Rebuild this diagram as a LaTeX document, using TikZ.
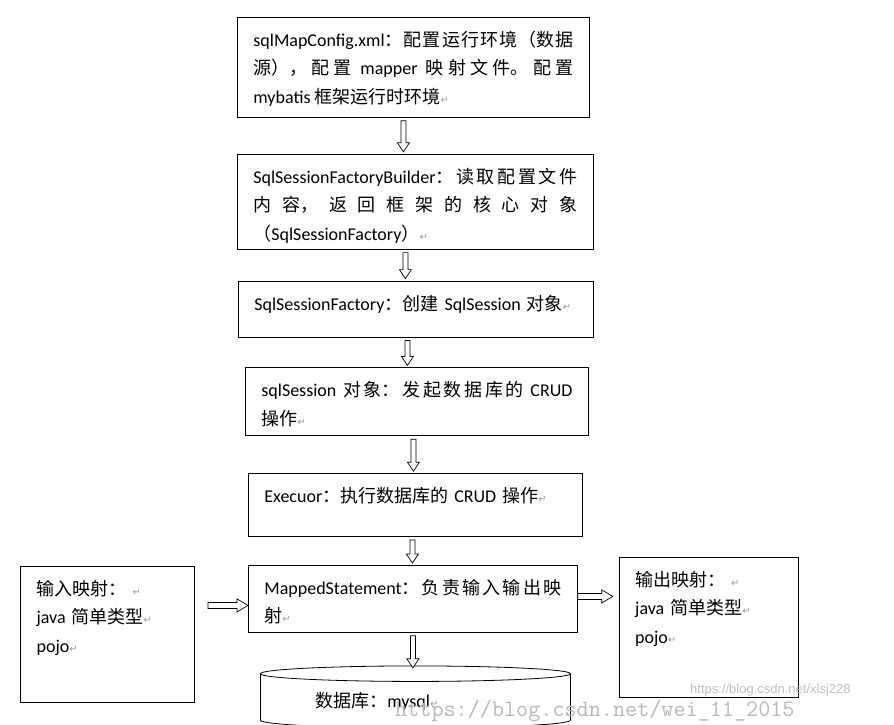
\documentclass[tikz,border=0pt]{standalone}
\usepackage{fontspec}
\usepackage{tikz}
\usetikzlibrary{positioning}
\usetikzlibrary{shapes.geometric}
\usetikzlibrary{calc}
\setmainfont{Carlito}
\newfontfamily\cjk{Noto Sans CJK SC}
\newfontfamily\symf{DejaVu Sans}
\newfontfamily\wmf{Liberation Sans}
\XeTeXlinebreaklocale "zh"
\XeTeXlinebreakskip=0pt plus 2pt
\newcommand\zh[1]{{\cjk #1}}
\newcommand\ret{{\symf\color{black!40}\fontsize{10}{10}\selectfont ↵}}

\begin{document}
\begin{tikzpicture}
        [x=1pt, y=-1pt,
         box/.style={draw, line width=0.8pt, anchor=north west, align=left,
                     inner xsep=16pt, inner ysep=0pt, text height=29pt,
                     font=\fontsize{18}{28.5}\selectfont},
         dflow/.style={draw, fill=white, line width=0.7pt,
                       to path={($(\tikztostart)+(-2.5,3)$) -- ($(\tikztotarget)+(-2.5,-11)$)
                         -- ($(\tikztotarget)+(-6,-11)$) -- ($(\tikztotarget)+(0,-2)$)
                         -- ($(\tikztotarget)+(6,-11)$) -- ($(\tikztotarget)+(2.5,-11)$)
                         -- ($(\tikztostart)+(2.5,3)$) -- cycle}},
         rflow/.style={draw, fill=white, line width=0.7pt,
                       to path={($(\tikztostart)+(0,-3)$) -- ($(\tikztotarget)+(-11,-3)$)
                         -- ($(\tikztotarget)+(-11,-6.5)$) -- (\tikztotarget)
                         -- ($(\tikztotarget)+(-11,6.5)$) -- ($(\tikztotarget)+(-11,3)$)
                         -- ($(\tikztostart)+(0,3)$) -- cycle}}]
      \useasboundingbox (0,0) rectangle (894,724);

      \node[box, align=justify, text width=320pt, text depth=71pt] (cfg) at (237,17)
        {sqlMapConfig.xml\zh{：配置运行环境（数据}\linebreak
         \zh{源），配置} mapper \zh{映射文件。配置}\linebreak
         mybatis \zh{框架运行时环境}\ret};
      \node[box, align=justify, text width=324pt, text depth=66pt] (builder)
        [below right=36pt and 0pt of cfg.south west]
        {SqlSessionFactoryBuilder\zh{：读取配置文件}\linebreak
         \zh{内容，返回框架的核心对象}\linebreak
         \zh{（}SqlSessionFactory\zh{）}\ret};
      \node[box, text width=323pt, text depth=27pt] (factory)
        [below right=31pt and 1pt of builder.south west]
        {SqlSessionFactory\zh{：创建} SqlSession \zh{对象}\ret};
      \node[box, align=justify, text width=311pt, text depth=39pt] (session)
        [below right=30pt and 7pt of factory.south west]
        {sqlSession \zh{对象：发起数据库的} CRUD\linebreak
         \zh{操作}\ret};
      \node[box, text width=302pt, text depth=34pt] (executor)
        [below right=37pt and 3pt of session.south west]
        {Execuor\zh{：执行数据库的} CRUD \zh{操作}\ret};
      \node[box, align=justify, text width=297pt, text depth=38pt] (mapped)
        [below right=28pt and 0pt of executor.south west]
        {MappedStatement\zh{：负责输入输出映}\linebreak
         \zh{射}\ret};
      \node[box, text width=142pt, text depth=107pt] (input)
        [below left=1pt and 53pt of mapped.north west, anchor=north east]
        {\zh{输入映射：} \ret\\ java \zh{简单类型}\ret\\ pojo\ret};
      \node[box, text width=147pt, text depth=111pt] (output)
        [above right=8pt and 41pt of mapped.north east, anchor=north west]
        {\zh{输出映射：} \ret\\ java \zh{简单类型}\ret\\ pojo\ret};
      \node[cylinder, shape border rotate=90, draw, line width=0.8pt, aspect=0.075,
            minimum width=310pt, minimum height=62pt, text width=200pt, align=left,
            font=\fontsize{18}{28.5}\selectfont] (db)
        [below=69pt of mapped.south, xshift=2.5pt, anchor=center]
        {\zh{数据库：}mysql\ret};

      \path (cfg.south) ++(-10,0) coordinate (p1)
            (builder.south) ++(-10,0) coordinate (p2)
            (factory.south) ++(-8.5,0) coordinate (p3)
            (session.south) ++(-3.5,0) coordinate (p4)
            (executor.south) ++(-3,0) coordinate (p5)
            (mapped.south) ++(0,37) coordinate (p6)
            (mapped.west) ++(0,6.5) coordinate (p7)
            (p7 -| input.east) ++(13,0) coordinate (p8)
            (mapped.east) ++(0,-2.5) coordinate (p9)
            (p9 -| output.west) ++(-6,0) coordinate (p10);
      \draw[dflow] (p1) to (p1 |- builder.north);
      \draw[dflow] (p2) to (p2 |- factory.north);
      \draw[dflow] (p3) to (p3 |- session.north);
      \draw[dflow] (p4) to (p4 |- executor.north);
      \draw[dflow] (p5) to (p5 |- mapped.north);
      \draw[dflow] (mapped.south) to (p6);
      \draw[rflow] (p8) to (p7);
      \draw[rflow] (p9) to (p10);

      \node[anchor=base west, inner sep=0pt, text=black!28,
            font=\ttfamily\fontsize{23.5}{24}\selectfont] (mark) at (395,716)
        {https://blog.csdn.net/wei\_11\_2015};
      \node[anchor=base west, inner sep=0pt, text=black!25,
            font=\wmf\fontsize{13}{13}\selectfont] (mark2) at (690,693)
        {https://blog.csdn.net/xlsj228};
\end{tikzpicture}
\end{document}
